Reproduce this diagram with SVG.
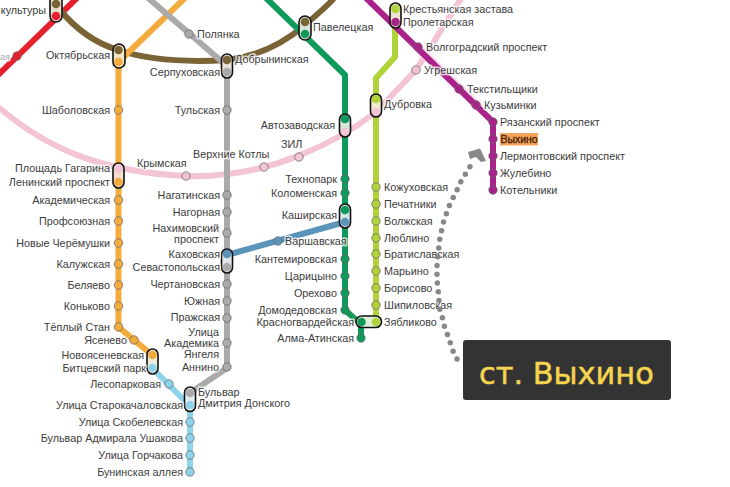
<svg xmlns="http://www.w3.org/2000/svg" width="730" height="487" viewBox="0 0 730 487">
<style>
text{font-family:"Liberation Sans",Arial,sans-serif;font-size:10.8px;fill:#3c3c3c}
.lb text{paint-order:stroke;stroke:#fff;stroke-opacity:.72;stroke-width:3px;stroke-linejoin:round}
.e{text-anchor:end}
.l{fill:none;stroke-width:6;stroke-linejoin:round}
.st circle{stroke:#666;stroke-opacity:.75;stroke-width:1;r:4.2px}
.ic{fill:none;stroke:#111;stroke-width:1.6}
.in circle{r:4.3px}
</style>
<rect width="730" height="487" fill="#fff"/>
<g id="connectors">
<path class="l" style="stroke:#f2c4d6" d="M-4 105C45 148 100 172 186 176C270 179 340 140 376 112L416 70L462 -3"/>
<path class="l" style="stroke:#e6202c" d="M78 -3L-5 78"/>
<path class="l" style="stroke:#7a6335" d="M60 10Q85 40 118 50Q160 64 227 60Q270 55 305 25T333 -3"/>
<path class="l" style="stroke:#f2ab3c" d="M186 -3L118.500 62V327L152 355"/>
<path class="l" style="stroke:#aaa" d="M147 -3L227 66V368L190 393"/>
<path class="l" style="stroke:#0f9a5c" d="M265 -3L345 75V310L355 319L361 322V338"/>
<path class="l" style="stroke:#b1d33a" d="M395 3V57L376 78V322"/>
<path class="l" style="stroke:#f8dcea;stroke-width:9" d="M416 46L480 108"/>
<path class="l" style="stroke:#a8228a" d="M365 -3L493 122V190"/>
<path class="l" style="stroke:#5a94bb" d="M227 255L345 222"/>
<path class="l" style="stroke:#8fd3ea" d="M152 368L190 406V472"/>
</g>
<g id="stations" class="st">
<g fill="#f2ab3c"><circle cx="118.500" cy="110"/><circle cx="118.500" cy="200"/><circle cx="118.500" cy="221"/><circle cx="118.500" cy="243"/><circle cx="118.500" cy="264"/><circle cx="118.500" cy="285"/><circle cx="118.500" cy="306"/><circle cx="118.500" cy="327"/><circle cx="134" cy="340"/></g>
<g fill="#aaa"><circle cx="189" cy="34"/><circle cx="227" cy="110"/><circle cx="227" cy="195"/><circle cx="227" cy="212"/><circle cx="227" cy="233"/><circle cx="227" cy="284"/><circle cx="227" cy="301"/><circle cx="227" cy="318"/><circle cx="227" cy="343"/><circle cx="227" cy="367"/></g>
<g fill="#0f9a5c"><circle cx="345" cy="179"/><circle cx="345" cy="193"/><circle cx="345" cy="259"/><circle cx="345" cy="276"/><circle cx="345" cy="293"/><circle cx="345" cy="310"/><circle cx="361" cy="338"/></g>
<g fill="#b1d33a"><circle cx="376" cy="187"/><circle cx="376" cy="204"/><circle cx="376" cy="221"/><circle cx="376" cy="238"/><circle cx="376" cy="254"/><circle cx="376" cy="271"/><circle cx="376" cy="288"/><circle cx="376" cy="305"/></g>
<g fill="#a8228a"><circle cx="418" cy="47"/><circle cx="459" cy="89"/><circle cx="476" cy="105"/><circle cx="493" cy="122"/><circle cx="493" cy="139"/><circle cx="493" cy="156"/><circle cx="493" cy="173"/><circle cx="493" cy="190"/></g>
<g fill="#8fd3ea"><circle cx="169" cy="384"/><circle cx="190" cy="422"/><circle cx="190" cy="438"/><circle cx="190" cy="455"/><circle cx="190" cy="472"/></g>
<g fill="#f2c4d6"><circle cx="186" cy="176"/><circle cx="264" cy="167"/><circle cx="299" cy="157"/><circle cx="416" cy="70"/></g>
<circle cx="278" cy="241" fill="#5a94bb"/><circle cx="17" cy="56" fill="#e6202c"/>
</g>
<g id="interchanges" class="in">
<g id="n-kultury"><rect x="50" y="-8" width="12" height="30" rx="6" fill="#e8dfd0"/><circle cx="56" cy="4" fill="#7a6335"/><circle cx="56" cy="16" fill="#e6202c"/><rect class="ic" x="50" y="-8" width="12" height="30" rx="6"/></g>
<g id="n-okt"><rect x="113" y="44" width="12" height="24" rx="6" fill="#f5e6c8"/><circle cx="118.500" cy="50" fill="#7a6335"/><circle cx="118.500" cy="62" fill="#f2ab3c"/><rect class="ic" x="113" y="44" width="12" height="24" rx="6"/></g>
<g id="n-dob"><rect x="221.500" y="54" width="11" height="24" rx="5.500" fill="#e8e4dc"/><circle cx="227" cy="60" fill="#7a6335"/><circle cx="227" cy="72" fill="#aaa"/><rect class="ic" x="221.500" y="54" width="11" height="24" rx="5.500"/></g>
<g id="n-pav"><rect x="299" y="16" width="12" height="24" rx="6" fill="#d8e4d8"/><circle cx="305" cy="22" fill="#7a6335"/><circle cx="305" cy="34" fill="#0f9a5c"/><rect class="ic" x="299" y="16" width="12" height="24" rx="6"/></g>
<g id="n-kr"><rect x="390" y="3" width="11" height="25" rx="5.500" fill="#ece4d0"/><circle cx="395.500" cy="9" fill="#b1d33a"/><circle cx="395.500" cy="22" fill="#a8228a"/><rect class="ic" x="390" y="3" width="11" height="25" rx="5.500"/></g>
<g id="n-dub"><rect x="370.500" y="94" width="11" height="23" rx="5.500" fill="#f0ecd0"/><circle cx="376" cy="99" fill="#b1d33a"/><circle cx="376" cy="112" fill="#f2c4d6"/><rect class="ic" x="370.500" y="94" width="11" height="23" rx="5.500"/></g>
<g id="n-avt"><rect x="339.500" y="114" width="11" height="23" rx="5.500" fill="#d8e8dc"/><circle cx="345" cy="119" fill="#0f9a5c"/><circle cx="345" cy="132" fill="#f2c4d6"/><rect class="ic" x="339.500" y="114" width="11" height="23" rx="5.500"/></g>
<g id="n-gag"><rect x="113" y="163" width="11" height="25" rx="5.500" fill="#f5e0d0"/><circle cx="118.500" cy="169" fill="#f2c4d6"/><circle cx="118.500" cy="182" fill="#f2ab3c"/><rect class="ic" x="113" y="163" width="11" height="25" rx="5.500"/></g>
<g id="n-kash"><rect x="339.500" y="204" width="11" height="24" rx="5.500" fill="#d8e8e4"/><circle cx="345" cy="210" fill="#0f9a5c"/><circle cx="345" cy="222" fill="#5a94bb"/><rect class="ic" x="339.500" y="204" width="11" height="24" rx="5.500"/></g>
<g id="n-kah"><rect x="221.500" y="249" width="11" height="24" rx="5.500" fill="#e0e8ec"/><circle cx="227" cy="254" fill="#5a94bb"/><circle cx="227" cy="267" fill="#aaa"/><rect class="ic" x="221.500" y="249" width="11" height="24" rx="5.500"/></g>
<g id="n-nov"><rect x="147" y="349" width="11" height="25" rx="5.500" fill="#f0ecdc"/><circle cx="152.500" cy="355" fill="#f2ab3c"/><circle cx="152.500" cy="368" fill="#8fd3ea"/><rect class="ic" x="147" y="349" width="11" height="25" rx="5.500"/></g>
<g id="n-bul"><rect x="184.500" y="387" width="11" height="24.500" rx="5.500" fill="#e8eef0"/><circle cx="190" cy="393" fill="#aaa"/><circle cx="190" cy="405" fill="#8fd3ea"/><rect class="ic" x="184.500" y="387" width="11" height="24.500" rx="5.500"/></g>
<g id="n-zya"><rect x="356" y="316" width="25.500" height="11.500" rx="5.700" fill="#e0f0d8"/><circle cx="361.500" cy="322" fill="#0f9a5c"/><circle cx="376" cy="322" fill="#b1d33a"/><rect class="ic" x="356" y="316" width="25.500" height="11.500" rx="5.700"/></g>
</g>
<g id="labels" class="lb">
<text class="e" x="10" y="60" style="fill:#9fb0b8;font-size:9px">ая</text>
<text class="e" x="46" y="14">культуры</text>
<text class="e" x="110" y="59">Октябрьская</text>
<text class="e" x="110" y="114">Шаболовская</text>
<text class="e" x="110" y="172">Площадь Гагарина</text>
<text class="e" x="110" y="186">Ленинский проспект</text>
<text class="e" x="110" y="204">Академическая</text>
<text class="e" x="110" y="225">Профсоюзная</text>
<text class="e" x="110" y="247">Новые Черёмушки</text>
<text class="e" x="110" y="268">Калужская</text>
<text class="e" x="110" y="289">Беляево</text>
<text class="e" x="110" y="310">Коньково</text>
<text class="e" x="110" y="331">Тёплый Стан</text>
<text class="e" x="127" y="344">Ясенево</text>
<text class="e" x="144" y="359">Новоясеневская</text>
<text class="e" x="146" y="372">Битцевский парк</text>
<text class="e" x="161" y="388">Лесопарковая</text>
<text class="e" x="183" y="409">Улица Старокачаловская</text>
<text class="e" x="183" y="426">Улица Скобелевская</text>
<text class="e" x="183" y="442">Бульвар Адмирала Ушакова</text>
<text class="e" x="183" y="459">Улица Горчакова</text>
<text class="e" x="183" y="476">Бунинская аллея</text>
<text class="e" x="220" y="76">Серпуховская</text>
<text class="e" x="220" y="114">Тульская</text>
<text class="e" x="220" y="199">Нагатинская</text>
<text class="e" x="220" y="216">Нагорная</text>
<text class="e" x="219" y="232">Нахимовский</text>
<text class="e" x="219" y="243">проспект</text>
<text class="e" x="220" y="258">Каховская</text>
<text class="e" x="220" y="271">Севастопольская</text>
<text class="e" x="220" y="288">Чертановская</text>
<text class="e" x="220" y="305">Южная</text>
<text class="e" x="220" y="321">Пражская</text>
<text class="e" x="219" y="336">Улица</text>
<text class="e" x="219" y="347">Академика</text>
<text class="e" x="219" y="358">Янгеля</text>
<text class="e" x="219" y="371">Аннино</text>
<text class="e" x="335" y="129">Автозаводская</text>
<text class="e" x="337" y="183">Технопарк</text>
<text class="e" x="337" y="197">Коломенская</text>
<text class="e" x="337" y="219">Каширская</text>
<text class="e" x="337" y="263">Кантемировская</text>
<text class="e" x="337" y="280">Царицыно</text>
<text class="e" x="337" y="297">Орехово</text>
<text class="e" x="337" y="314">Домодедовская</text>
<text class="e" x="354" y="326">Красногвардейская</text>
<text class="e" x="354" y="342">Алма-Атинская</text>
<text x="197" y="38">Полянка</text>
<text x="235" y="63">Добрынинская</text>
<text x="313" y="31">Павелецкая</text>
<text x="403" y="13">Крестьянская застава</text>
<text x="403" y="26">Пролетарская</text>
<text x="426" y="51">Волгоградский проспект</text>
<text x="424" y="74">Угрешская</text>
<text x="467" y="93">Текстильщики</text>
<text x="484" y="109">Кузьминки</text>
<text x="500" y="126">Рязанский проспект</text>
<text x="500" y="160">Лермонтовский проспект</text>
<text x="500" y="177">Жулебино</text>
<text x="500" y="194">Котельники</text>
<text x="384" y="108">Дубровка</text>
<text x="384" y="191">Кожуховская</text>
<text x="384" y="208">Печатники</text>
<text x="384" y="225">Волжская</text>
<text x="384" y="242">Люблино</text>
<text x="384" y="258">Братиславская</text>
<text x="384" y="275">Марьино</text>
<text x="384" y="292">Борисово</text>
<text x="384" y="309">Шипиловская</text>
<text x="384" y="326">Зябликово</text>
<text x="137" y="167">Крымская</text>
<text x="193" y="158">Верхние Котлы</text>
<text x="281" y="148">ЗИЛ</text>
<text x="285" y="245">Варшавская</text>
<text x="198" y="396">Бульвар</text>
<text x="198" y="407">Дмитрия Донского</text>
</g>
<g id="highlight">
<rect x="500" y="133" width="38" height="12.500" fill="#f5a65b"/>
<text x="500.500" y="143" textLength="37" lengthAdjust="spacingAndGlyphs" style="fill:#4a2008;stroke:#4a2008;stroke-width:.35px">Выхино</text>
</g>
<g id="callout">
<path fill="none" stroke="#888" stroke-width="5.500" stroke-linecap="round" stroke-dasharray="0 8.800" d="M457 359L453 351L450 342L447 333L444 325L442 316L439 307L439 298L438 289L437 280L437 272L437 263L439 246L440 237L442 229L444 220L447 212L450 204L454 196L458 188L462 179L467 172L472 163"/>
<path fill="#888" d="M468 152L480 148.500L486 161L481 162L476 157L470 159Z"/>
<rect x="463" y="340" width="208" height="60" rx="3" fill="#333"/>
<text x="479" y="384" style="font-family:'DejaVu Sans',sans-serif;font-size:30.400px;fill:#f5d44f;stroke:#f5d44f;stroke-width:.5px">ст. Выхино</text>
</g>
</svg>
